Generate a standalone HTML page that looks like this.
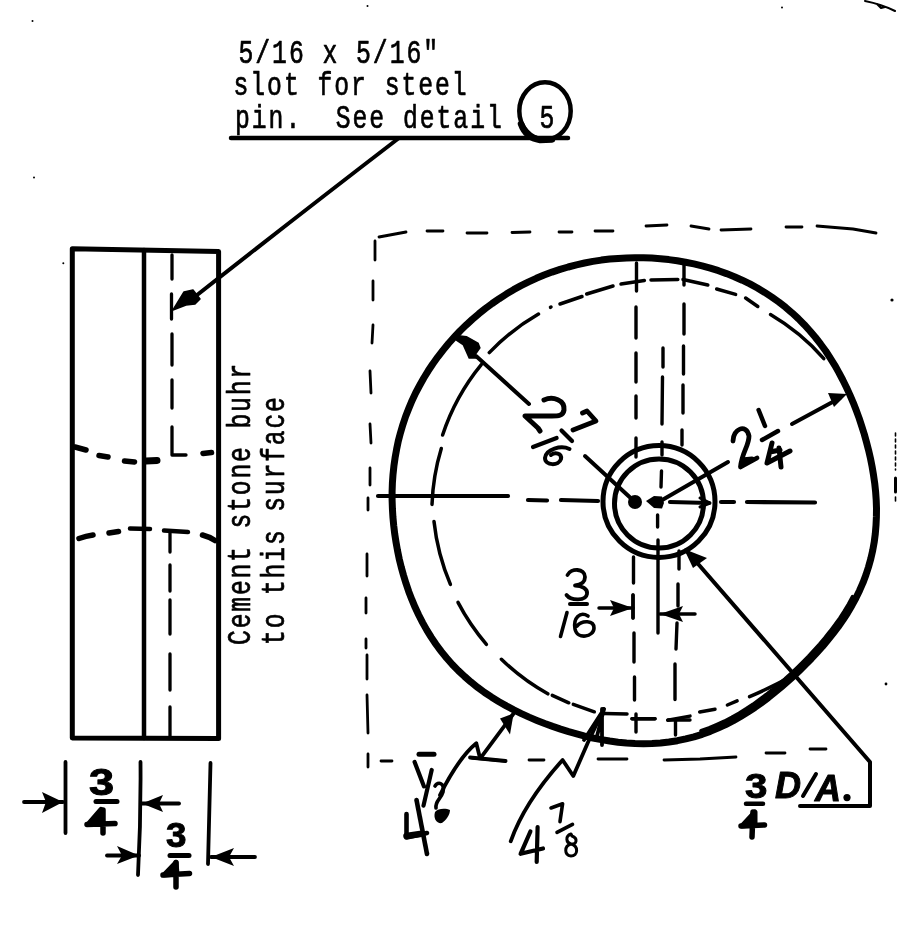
<!DOCTYPE html>
<html><head><meta charset="utf-8"><style>
html,body{margin:0;padding:0;background:#fff;width:901px;height:951px;overflow:hidden}
svg{display:block;filter:grayscale(1)}
.tw{font-family:"Liberation Mono",monospace;font-size:33px;fill:#000;stroke:#000;stroke-width:0.7px;white-space:pre}
.bd{font-family:"Liberation Sans",sans-serif;font-weight:bold;fill:#000;stroke:#000;stroke-width:1px}
</style></head><body>
<svg width="901" height="951" viewBox="0 0 901 951" fill="none" stroke="#000" stroke-linecap="round" stroke-linejoin="round">
<rect x="0" y="0" width="901" height="951" fill="#fff" stroke="none"/>

<!-- ===== top note ===== -->
<g stroke="none">
<text class="tw" transform="translate(238.5,63) scale(0.75,1)" letter-spacing="2.6">5/16 x 5/16"</text>
<text class="tw" transform="translate(233.5,94.5) scale(0.75,1)" letter-spacing="2.6">slot for steel</text>
<text class="tw" transform="translate(235,128) scale(0.75,1)" letter-spacing="2.6">pin.  See detail</text>
<text class="tw" transform="translate(539.5,128) scale(0.75,1)">5</text>
</g>
<line x1="231" y1="138" x2="568" y2="138" stroke-width="4.5"/>
<ellipse cx="545" cy="111" rx="25.7" ry="28.7" stroke-width="4.5"/>
<path d="M521,124 Q526,138 540,140 L552,139.5" stroke-width="6.5"/>

<!-- leader to slot -->
<path d="M399,138 Q300,214 192,299" stroke-width="4"/>
<path d="M173,310 L184,292 L193,290 L200,299 L195,304 L186,305 Z" fill="#000" stroke-width="1.5"/>

<!-- ===== left side view ===== -->
<path d="M72.3,248.8 L218.6,251.5 L218.6,738.5 L72.3,738 Z" stroke-width="5"/>
<line x1="144" y1="250" x2="144" y2="738" stroke-width="4.5"/>
<g stroke-width="3.3">
<line x1="172" y1="255" x2="172" y2="279"/>
<line x1="171.5" y1="294" x2="171.5" y2="319"/>
<line x1="172" y1="334" x2="172" y2="365"/>
<line x1="172" y1="380" x2="172" y2="408"/>
<path d="M172,427 L172,455 L186,455"/>
<path d="M164,530.6 L188,532" stroke-width="4.5"/>
<line x1="170" y1="531" x2="170" y2="552"/>
<line x1="170" y1="565" x2="170" y2="591"/>
<line x1="170" y1="600" x2="170" y2="634"/>
<line x1="170" y1="654" x2="170" y2="690"/>
<line x1="170" y1="707" x2="170" y2="737"/>
</g>
<g stroke-width="5.5">
<path d="M75,447 L86,450"/>
<path d="M99,455.5 L108,457"/>
<path d="M124.5,461 L134.5,462"/>
<path d="M146,461 L157,460.5" stroke-width="7"/>
<path d="M203,453.5 L211.5,452.5"/>
<path d="M79,538.5 Q86,536 93,535"/>
<path d="M109,533 L118.5,531.5"/>
<path d="M130,528.5 L150,529" stroke-width="4.5"/>
<path d="M202.5,535 Q210,537 215,540.5"/>
</g>

<!-- rotated note -->
<g stroke="none">
<text class="tw" transform="translate(250,645) rotate(-90) scale(0.75,1)" letter-spacing="2.4">Cement stone buhr</text>
<text class="tw" transform="translate(283.5,645) rotate(-90) scale(0.75,1)" letter-spacing="2.4">to this surface</text>
</g>

<!-- bottom-left dims -->
<g stroke-width="3.8">
<line x1="65.5" y1="762" x2="65.5" y2="833"/>
<path d="M140.5,762 Q141,820 138,875"/>
<path d="M210.5,763 Q209,820 208,864"/>
<line x1="24" y1="802" x2="63" y2="802"/>
<line x1="141" y1="803.5" x2="179" y2="803.5"/>
<line x1="107" y1="855.5" x2="139" y2="855.5"/>
<line x1="211" y1="857" x2="255" y2="857"/>
</g>
<g fill="#000" stroke="none">
<path d="M63,802 L42,792 L46,802 L42,813 Z"/>
<path d="M142,803.5 L163,795 L159,803.5 L163,812 Z"/>
<path d="M139,855.5 L117,846 L122,855.5 L117,864 Z"/>
<path d="M211,857 L234,848 L229,857 L234,866 Z"/>
</g>
<g stroke="none">
<text class="bd" transform="translate(89,795) scale(1.25,1)" font-size="36">3</text>
<path d="M88,824.5 L101,809.5 L103,824 Z" fill="#000" stroke="#000" stroke-width="5"/><path stroke="#000" d="M87,824.5 L115,823.5 M103,810 L103,833" stroke-width="5.5"/>
<text class="bd" transform="translate(166,847) scale(1.05,1)" font-size="35">3</text>
<path d="M164,875 L176,862.5 L177,874 Z" fill="#000" stroke="#000" stroke-width="5"/><path stroke="#000" d="M163,875 L189.5,873.5 M176,862.5 L176,887" stroke-width="5.5"/>
</g>
<g stroke-width="5">
<line x1="96" y1="801.5" x2="117" y2="801.5"/>
<line x1="170" y1="855.5" x2="189" y2="855.5"/>
</g>

<!-- ===== front view ===== -->
<!-- dashed square -->
<g stroke-width="2.8">
<path d="M379,237 L406,232 M427,231 L443,231 M467,233 L487,233 M512,232.5 L530,232 M559,232 L572,232 M595,231 L613,231 M646,226 L667,225 M691,226 L709,229 M721,230 L751,229 M786,227 L802,227 M817,226 L853,229 L876,233"/>
<path d="M375,241 L375,260 M373,281 L373,300 M373,325 L372,343 M370,371 L371,393 M370,424 L371,443 M370,468 L370,485 M368,498 L368,510 M367,554 L367,576 M366,598 L366,613 M366,639 L366,648 M367,655 L367,679 M367,695 L368,733 M368,754 L368,767"/>
<path d="M381,761 L392,761 M419,753.5 L434,753.5 M472,758 L505,761 M529,760 L544,760 M598,759 L627,759 M664,760 L700,759 L736,757 M766,753 L785,753 M810,749 L826,749"/>
<path d="M895.5,433 L895.5,470" stroke-width="1.6" stroke-dasharray="3,3"/><path d="M895.5,478 L895.5,492" stroke-width="3"/><path d="M895.5,497 L895.5,501" stroke-width="1.6"/>
</g>
<!-- outer circle -->
<path d="M876.2,500.0 L876.5,508.4 L876.4,516.9 L876.0,525.3 L875.3,533.8 L874.2,542.2 L872.7,550.5 L870.8,558.8 L868.5,567.0 L865.9,575.0 L862.9,582.9 L859.5,590.7 L855.8,598.3 L851.8,605.7 L847.5,613.0 L842.9,620.0 L838.1,626.9 L833.0,633.6 L827.8,640.1 L822.5,646.5 L816.9,652.7 L811.3,658.7 L805.5,664.6 L799.6,670.4 L793.6,676.1 L787.4,681.7 L781.2,687.1 L774.8,692.4 L768.3,697.6 L761.6,702.6 L754.8,707.5 L747.8,712.1 L740.6,716.5 L733.3,720.7 L725.7,724.6 L718.0,728.1 L710.2,731.4 L702.2,734.3 L694.0,736.8 L685.8,738.9 L677.4,740.7 L669.0,742.0 L660.5,743.0 L652.0,743.5 L643.5,743.7 L635.0,743.5 L626.5,743.0 L618.1,742.2 L609.7,741.0 L601.3,739.6 L593.0,738.0 L584.8,736.1 L576.7,733.9 L568.6,731.6 L560.6,729.1 L552.6,726.4 L544.7,723.5 L536.9,720.4 L529.1,717.1 L521.4,713.6 L513.8,709.9 L506.3,705.9 L499.0,701.7 L491.7,697.2 L484.6,692.5 L477.7,687.4 L471.0,682.1 L464.6,676.5 L458.3,670.6 L452.3,664.5 L446.6,658.0 L441.2,651.4 L436.1,644.5 L431.3,637.4 L426.8,630.1 L422.6,622.6 L418.7,615.0 L415.1,607.3 L411.8,599.4 L408.7,591.4 L406.0,583.4 L403.5,575.2 L401.2,567.0 L399.2,558.8 L397.5,550.5 L396.0,542.1 L394.7,533.8 L393.7,525.4 L392.9,516.9 L392.4,508.5 L392.1,500.0 L392.1,491.5 L392.4,483.0 L393.0,474.6 L393.9,466.1 L395.1,457.7 L396.6,449.3 L398.3,441.0 L400.5,432.7 L402.9,424.6 L405.6,416.5 L408.7,408.6 L412.0,400.7 L415.6,393.0 L419.6,385.5 L423.8,378.0 L428.2,370.8 L432.9,363.7 L437.9,356.8 L443.1,350.1 L448.5,343.5 L454.2,337.2 L460.0,331.0 L466.1,325.1 L472.3,319.4 L478.8,313.8 L485.4,308.5 L492.2,303.5 L499.2,298.7 L506.3,294.1 L513.6,289.7 L521.0,285.7 L528.6,281.9 L536.3,278.3 L544.1,275.1 L552.0,272.1 L560.1,269.4 L568.2,267.0 L576.4,264.8 L584.6,263.0 L592.9,261.4 L601.3,260.1 L609.7,259.1 L618.1,258.4 L626.5,257.9 L635.0,257.7 L643.5,257.8 L651.9,258.1 L660.4,258.7 L668.8,259.6 L677.2,260.8 L685.5,262.2 L693.9,263.9 L702.1,265.9 L710.3,268.1 L718.5,270.7 L726.5,273.6 L734.4,276.7 L742.2,280.2 L749.9,283.9 L757.4,288.0 L764.7,292.4 L771.9,297.1 L778.8,302.0 L785.6,307.3 L792.0,312.8 L798.3,318.6 L804.3,324.7 L810.0,331.0 L815.5,337.5 L820.7,344.2 L825.7,351.0 L830.3,358.1 L834.8,365.3 L838.9,372.6 L842.8,380.0 L846.5,387.5 L850.0,395.1 L853.3,402.8 L856.3,410.6 L859.2,418.4 L861.8,426.3 L864.3,434.3 L866.5,442.3 L868.6,450.3 L870.5,458.5 L872.1,466.7 L873.5,474.9 L874.7,483.2 L875.6,491.6Z" stroke-width="7"/>
<path d="M852.6,596.9 L848.7,604.2 L844.4,611.4 L839.9,618.3 L835.1,625.0 L830.1,631.6 L825.0,638.0 L819.7,644.3 L814.2,650.4 L808.7,656.4 L803.0,662.2 L797.2,667.9 L791.3,673.5 L785.2,679.0 L779.0,684.3 L772.7,689.6 L766.3,694.7 L759.7,699.6 L753.1,704.5 L746.2,709.0 L739.1,713.4 L731.9,717.5 L724.4,721.4 L716.8,724.8 L709.1,728.1 L701.2,730.9" stroke-width="4"/>
<!-- inner chain circle -->
<g stroke-width="3.5">
<path d="M432,504.4 A219,219 0 0 1 441.3,448.5"/>
<path d="M442.6,435 A219,219 0 0 1 481.3,364.6"/>
<path d="M489.3,352.6 A219,219 0 0 1 538.5,314"/>
<path d="M550.5,307.3 L551,307"/>
<path d="M560,304 L582,296.5"/>
<path d="M586.7,294 L613,286"/>
<path d="M621,284 L644.4,280.5"/>
<path d="M651,280 L677.8,279.5"/>
<path d="M683,279.5 L707.8,285"/>
<path d="M716.7,289 L735.6,294.4"/>
<path d="M745.6,298 L757.8,306.5"/>
<path d="M770.5,314.6 A219,219 0 0 1 823.8,358.6"/>
<path d="M450.4,584.4 A221,221 0 0 1 434,521.5"/>
<path d="M486.4,644.3 A221,221 0 0 1 458,602.4"/>
<path d="M547.8,693.8 A221,221 0 0 1 501.4,659.3"/>
<path d="M568.8,702.8 L552.3,695.3"/>
<path d="M594.3,711.8 L573.3,704.3"/>
<path d="M604,713.5 L627,714"/>
<path d="M632,718.7 L655,718.7"/>
<path d="M667.7,720.3 L690,716.1"/>
<path d="M699.7,712 L715,709.2"/>
<path d="M727.4,705 L737.1,700.9"/>
<path d="M749.6,696.7 Q772,687 792.6,675.9"/>
</g>
<!-- hub -->
<circle cx="659" cy="501.5" r="56" stroke-width="5"/>
<circle cx="659" cy="503.5" r="44.5" stroke-width="5"/>
<circle cx="635" cy="502" r="7" fill="#000" stroke="none"/>
<path d="M646,501 L654,496 L662,496.5 L664,503 L662,508.5 L654,508 Z" fill="#000" stroke="none"/>
<!-- center lines -->
<g stroke-width="4.2">
<path d="M378,496 L508,496"/>
<path d="M528,500 L547,500.5"/>
<path d="M561,500 L598,501"/>
<path d="M670,502 L709,503"/>
<path d="M700,498 L710,503 L700,507" stroke-width="3"/>
<path d="M721,502 L734,502"/>
<path d="M747,502 L815,502.5"/>
</g>
<!-- vertical dashed lines -->
<g stroke-width="3.4">
<path d="M636.5,263 L636.5,291 M636,307 L636,338 M636,353 L636,382 M636,396 L636,418 M636,438 L636,457"/>
<path d="M684,265 L684,285 M684,304 L684,334 M683.5,346 L683.5,374 M683,385 L683,413 M682,430 L682,445"/>
<path d="M663,348 L663,367 M662.5,377 L662,424 M662,442 L662,455 M661.5,471 L661,487 M657.6,515 L657.6,527 M658,540 L658,633"/>
<path d="M633.5,557 L633.5,583 M633,595 L633,618 M634,633 L634,662 M634.5,677 L634.5,700 M636,714 L636,732 M632,718.7 L655,718.7"/>
<path d="M679,551 L679,569 M678,584 L678,606 M677,623 L676,649 M675,664 L675,699.5 M675.5,721.6 L675.5,735 M668,720 L690,720"/>
</g>
<!-- leaders -->
<g stroke-width="4">
<path d="M585,456 L635,502"/>
<path d="M657,503 L728,462"/>
<path d="M529,404 L476,356"/>
<path d="M792,424 L840,398"/>
<path d="M686,550 L870,762 L870,806 L800,806"/>
</g>
<g fill="#000" stroke="none">
<path d="M456,334.7 L466.7,336 L478.7,342.7 L480.7,348 L476,354.7 L477.3,358.7 L468.7,358.7 L462.7,345.3 L456,340.7 Z"/>
<path d="M847,394 L828,393 L834,407 Z"/>
<path d="M684,549 L707,558 L693,568 Z"/>
</g>

<!-- ===== labels ===== -->
<g stroke-width="3.6">
<!-- 2 7/16 -->
<path d="M544,400 C553,396 565,400 564,410 C563,416 558,416 552,416 L525,416 L538,428 L540,431" stroke-width="5"/>
<path d="M582.5,413 L587,411 L596,421 L573,430" stroke-width="4.8"/>
<path d="M561.5,430.5 L572,441" stroke-width="4.2"/>
<path d="M533,447 L556.6,438" stroke-width="4.2"/>
<path d="M569.5,449 C561,445 546,449 545,458 C545,466 559,466 561,459 C562,453 555,452 551,455" stroke-width="4"/>
<!-- 2 1/4 -->
<path d="M733,441 C733,429 746,423 749,436 C749,446 742,452 740.5,467 L757,458 M742,460 L752,459" stroke-width="4.8"/>
<path d="M758.6,410 L765,426" stroke-width="4.5"/>
<path d="M762,440 L778,431" stroke-width="4.5"/>
<path d="M772,443 L767,463 L790,451 M770,452 L780,450 M779,448 L781,467" stroke-width="5"/>
<!-- 3/16 -->
<path d="M560.5,636.5 L567,612.5"/>
<path d="M588,616 C580,611 573,618 575,629 C577,640 594,637 594,628 C594,620 582,620 577,626"/>
<!-- 4 1/2 -->
<path d="M406.5,814 L406.5,837.5 L427,833" stroke-width="4.6"/>
<path d="M406.5,836 L420,834" stroke-width="6.5"/>
<path d="M416.5,800 L427,854" stroke-width="4.6"/>
<path d="M414.6,762 L424,786.4 M431.7,770 L423.5,805.6" stroke-width="4.2"/>
<path d="M419,754.3 L434,754.3" stroke-width="5"/>
<path d="M435,786 C438,781 445,783 443,792 C441,799 435,801 436,808" stroke-width="3.6"/>
<!-- 4 1/8 -->
<path d="M530.4,831.5 L520.6,853.8 L543,848.5 M537.6,827 L536.7,862" stroke-width="4.2"/>
<path d="M551,808 L562.6,803.8 L560,821.6"/>
<path d="M557,832.4 L572.5,824.3"/>
<path d="M571,834 C565,836 566,843 571,844 C577,845 578,838 572,836 Z M571,844 C564,846 564,855 571,856 C578,856 579,846 571,844" stroke-width="3"/>
</g>
<g fill="#000" stroke="none">
<path d="M435,812 C438,808 446,808 450,810 C450,815 446,820 442,823 C437,824 433,819 435,812 Z"/>
</g>
<!-- 3/16 text bits -->
<path d="M567.5,575 C571,568 585,568 585,577 C585,583 579,585 575,585.5 C582,585.5 588,589 587,594 C586,601 571,601 566.5,595" stroke-width="3.8"/>
<line x1="570" y1="604" x2="587" y2="604" stroke-width="4"/>
<g stroke-width="3.5">
<line x1="599" y1="608" x2="633" y2="608"/>
<line x1="660" y1="614" x2="695" y2="614"/>
<line x1="633" y1="595" x2="633" y2="618"/>
</g>
<g fill="#000" stroke="none">
<path d="M633,608 L610,600 L614,608 L610,616 Z"/>
<path d="M660,614 L683,606 L679,614 L683,622 Z"/>
</g>
<!-- 4 1/2 arrow + leader -->
<g stroke-width="3.8">
<path d="M481.6,756.6 L513.6,713.5"/>
<path d="M440,795 C450,775 462,755 476.3,743.3 L479.5,756"/>
<path d="M470,757.5 L505.6,761"/>
<path d="M510.7,841.3 C520,815 540,785 562.6,760 L573.3,776 L587.7,743 L603.8,709"/>
<path d="M604,709 L584,740 M604,709 L596,740 M602,709 L602,745"/>
</g>
<g fill="#000" stroke="none">
<path d="M513.6,713.5 L500,718.4 L510,734.4 Z"/>
</g>
<!-- 3/4 DIA. -->
<g stroke="none">
<text class="bd" transform="translate(745,798.4) scale(1.15,1)" font-size="35">3</text>
<path d="M742,826 L755,812 L755,825 Z" fill="#000" stroke="#000" stroke-width="5"/><path stroke="#000" d="M741,826 L764.5,825 M753,812 L752,837" stroke-width="5.5"/>
<text class="bd" x="775" y="798.4" font-size="36" font-style="italic">D</text>
<text class="bd" x="815" y="801" font-size="36" font-style="italic">A</text>
</g>
<line x1="746" y1="803.8" x2="763" y2="803.8" stroke-width="4.5"/>
<path d="M816,774 L803,796" stroke-width="4"/>
<circle cx="847" cy="797.6" r="3.6" fill="#000" stroke="none"/>
<!-- misc marks -->
<path d="M865,1 C875,3 885,6 895,11 M877,4 L881,8 L885,7" stroke-width="2"/>
<circle cx="892" cy="300" r="1.6" fill="#000" stroke="none"/>
<circle cx="886" cy="684" r="1.4" fill="#000" stroke="none"/>
<circle cx="782" cy="7.5" r="1" fill="#000" stroke="none"/>
<circle cx="32.5" cy="21" r="1" fill="#000" stroke="none"/>
<circle cx="34" cy="177.5" r="1" fill="#000" stroke="none"/>
<circle cx="367.5" cy="6" r="1" fill="#000" stroke="none"/>
<circle cx="63.3" cy="263.3" r="1" fill="#000" stroke="none"/>
</svg>
</body></html>
